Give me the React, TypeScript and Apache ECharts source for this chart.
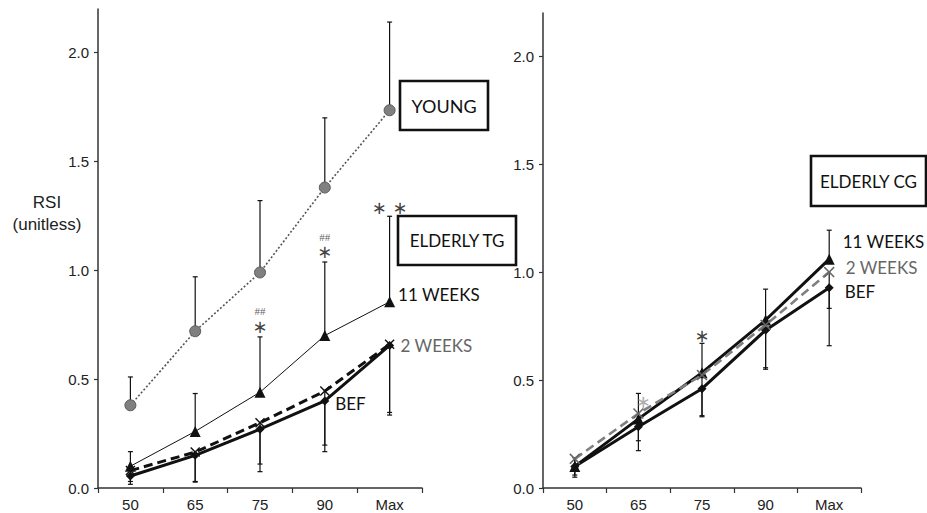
import { useEffect, useRef } from "react";
import * as echarts from "echarts";

const categories = ["50", "65", "75", "90", "Max"];
const yTicks = [0, 0.5, 1, 1.5, 2];

// Elderly training group (left) and young reference group
const youngMean = [0.38, 0.72, 0.99, 1.38, 1.735];
const youngUpper = [0.51, 0.97, 1.32, 1.7, 2.14];
const tg11Mean = [0.1, 0.26, 0.44, 0.7, 0.855];
const tg11Upper = [0.167, 0.434, 0.694, 1.038, 1.248];
const tg2Mean = [0.08, 0.165, 0.3, 0.445, 0.66];
const tg2Lower = [0.03, 0.03, 0.11, 0.197, 0.347];
const tgBefMean = [0.055, 0.15, 0.27, 0.4, 0.655];
const tgBefLower = [0.017, 0.027, 0.075, 0.167, 0.335];

// Elderly control group (right)
const cg11Mean = [0.1, 0.32, 0.534, 0.778, 1.06];
const cg11Upper = [0.14, 0.438, 0.67, 0.921, 1.194];
const cg2Mean = [0.135, 0.345, 0.523, 0.755, 1.0];
const cg2Lower = [0.06, 0.219, 0.335, 0.557, 0.832];
const cgBefMean = [0.1, 0.284, 0.46, 0.731, 0.927];
const cgBefLower = [0.05, 0.173, 0.33, 0.55, 0.659];

// Significance marks: [category index, y value, text]
const leftMarks: [number, number, string][] = [
  [2, 0.812, "##"],
  [2, 0.743, "∗"],
  [3, 1.155, "##"],
  [3, 1.084, "∗"],
  [4, 1.29, "∗ ∗"],
];
const rightMarks: [number, number, string][] = [[2, 0.708, "∗"]];
const rightGrayMarks: [number, number, string][] = [[1, 0.4, "∗"]];

const X_SYMBOL =
  "path://M0,1 L1,0 L5,4 L9,0 L10,1 L6,5 L10,9 L9,10 L5,6 L1,10 L0,9 L4,5 Z";
const LABEL_FONT = "Lato";
const STAR_SIZE = 18;

function labelled(
  values: number[],
  idx: number,
  text: string,
  offset: number[],
  color = "#111"
) {
  return values.map((v, i) =>
    i === idx
      ? {
          value: v,
          label: {
            show: true,
            formatter: text,
            position: "right",
            distance: 8,
            offset,
            color,
            fontFamily: LABEL_FONT,
            fontSize: 17,
          },
        }
      : v
  );
}

function errorBars(axis: number, from: number[], to: number[]) {
  return {
    type: "custom",
    xAxisIndex: axis,
    yAxisIndex: axis,
    silent: true,
    z: 1,
    data: from.map((v, i) => [i, v, to[i]]),
    encode: { x: 0, y: [1, 2] },
    renderItem: (_params: any, api: any) => {
      const a = api.coord([api.value(0), api.value(1)]);
      const b = api.coord([api.value(0), api.value(2)]);
      const w = 2.5;
      const style = { stroke: "#111", lineWidth: 1.2 };
      return {
        type: "group",
        children: [
          { type: "line", shape: { x1: a[0], y1: a[1], x2: b[0], y2: b[1] }, style },
          { type: "line", shape: { x1: b[0] - w, y1: b[1], x2: b[0] + w, y2: b[1] }, style },
        ],
      };
    },
  };
}

function marks(axis: number, list: [number, number, string][], color: string, dx = 0) {
  return {
    type: "scatter",
    xAxisIndex: axis,
    yAxisIndex: axis,
    silent: true,
    symbolSize: 0,
    z: 5,
    data: list.map(([i, v, t]) => {
      const hash = t === "##";
      return {
        value: [i, v],
        label: {
          show: true,
          position: "inside",
          formatter: t,
          color: hash ? "#333" : color,
          fontFamily: hash ? "Liberation Serif" : "DejaVu Sans",
          fontSize: hash ? 11 : STAR_SIZE,
          lineHeight: hash ? 11 : STAR_SIZE,
          offset: [dx, 0],
        },
      };
    }),
  };
}

function xAxis(gridIndex: number) {
  return {
    type: "category",
    gridIndex,
    data: categories,
    boundaryGap: true,
    axisLine: { lineStyle: { color: "#333", width: 1.5 } },
    axisTick: { show: true, length: 5, lineStyle: { color: "#333", width: 1.2 } },
    axisLabel: {
      color: "#222",
      fontFamily: "Liberation Sans",
      fontSize: 15,
      margin: 9,
    },
  };
}

function yAxis(gridIndex: number) {
  return {
    type: "value",
    gridIndex,
    min: 0,
    max: 2.2,
    interval: 0.5,
    splitLine: { show: false },
    axisLine: { show: true, lineStyle: { color: "#333", width: 1.5 } },
    axisTick: {
      show: true,
      length: 4,
      customValues: yTicks,
      lineStyle: { color: "#333", width: 1.2 },
    },
    axisLabel: {
      customValues: yTicks,
      color: "#222",
      fontFamily: "Liberation Sans",
      fontSize: 15,
      margin: 9,
      formatter: (v: number) => v.toFixed(1),
    },
  };
}

function box(x: number, y: number, w: number, h: number, text: string, size: number) {
  return {
    type: "group",
    x,
    y,
    children: [
      {
        type: "rect",
        shape: { x: 0, y: 0, width: w, height: h },
        style: { fill: "#fff", stroke: "#111", lineWidth: 2.6 },
      },
      {
        type: "text",
        x: w / 2,
        y: h / 2,
        style: {
          text,
          fill: "#111",
          font: `${size}px ${LABEL_FONT}`,
          textAlign: "center",
          textVerticalAlign: "middle",
        },
      },
    ],
  };
}

export default function App() {
  const ref = useRef<HTMLDivElement>(null);

  useEffect(() => {
    document.body.style.margin = "0";
    const chart = echarts.init(ref.current!, undefined, { renderer: "svg" });

    const option = {
      animation: false,
      backgroundColor: "#fff",
      grid: [
        { left: 98, top: 9, width: 324, height: 479 },
        { left: 543, top: 13, width: 318, height: 475 },
      ],
      xAxis: [xAxis(0), xAxis(1)],
      yAxis: [yAxis(0), yAxis(1)],
      graphic: [
        {
          type: "text",
          x: 47,
          y: 202,
          style: {
            text: "RSI",
            fill: "#222",
            font: "17px Liberation Sans",
            textAlign: "center",
            textVerticalAlign: "middle",
          },
        },
        {
          type: "text",
          x: 47,
          y: 224,
          style: {
            text: "(unitless)",
            fill: "#222",
            font: "17px Liberation Sans",
            textAlign: "center",
            textVerticalAlign: "middle",
          },
        },
        box(400, 81, 88, 49, "YOUNG", 18),
        box(398, 216, 118, 49, "ELDERLY TG", 17),
        box(811, 156, 115, 50, "ELDERLY CG", 17),
      ],
      series: [
        // error bars (left)
        errorBars(0, youngMean, youngUpper),
        errorBars(0, tg11Mean, tg11Upper),
        errorBars(0, tg2Mean, tg2Lower),
        errorBars(0, tgBefMean, tgBefLower),
        // error bars (right)
        errorBars(1, cg11Mean, cg11Upper),
        errorBars(1, cg2Mean, cg2Lower),
        errorBars(1, cgBefMean, cgBefLower),
        {
          name: "YOUNG",
          type: "line",
          xAxisIndex: 0,
          yAxisIndex: 0,
          data: youngMean,
          symbol: "circle",
          symbolSize: 11,
          z: 3,
          lineStyle: { color: "#555", width: 1.6, type: [2, 2] },
          itemStyle: { color: "#808080", borderColor: "#5a5a5a", borderWidth: 1 },
        },
        {
          name: "11 WEEKS",
          type: "line",
          xAxisIndex: 0,
          yAxisIndex: 0,
          data: labelled(tg11Mean, 4, "11 WEEKS", [-5, -7]),
          symbol: "triangle",
          symbolSize: 11,
          z: 3,
          lineStyle: { color: "#111", width: 1 },
          itemStyle: { color: "#111" },
        },
        {
          name: "2 WEEKS",
          type: "line",
          xAxisIndex: 0,
          yAxisIndex: 0,
          data: labelled(tg2Mean, 4, "2 WEEKS", [-2, 1], "#666"),
          symbol: X_SYMBOL,
          symbolSize: 10,
          z: 3,
          lineStyle: { color: "#111", width: 3, type: [9, 5] },
          itemStyle: { color: "#111" },
        },
        {
          name: "BEF",
          type: "line",
          xAxisIndex: 0,
          yAxisIndex: 0,
          data: labelled(tgBefMean, 3, "BEF", [-2, 3]),
          symbol: "diamond",
          symbolSize: 9,
          z: 4,
          lineStyle: { color: "#111", width: 3 },
          itemStyle: { color: "#111" },
        },
        {
          name: "11 WEEKS",
          type: "line",
          xAxisIndex: 1,
          yAxisIndex: 1,
          data: labelled(cg11Mean, 4, "11 WEEKS", [0, -18]),
          symbol: "triangle",
          symbolSize: 11,
          z: 3,
          lineStyle: { color: "#111", width: 3 },
          itemStyle: { color: "#111" },
        },
        {
          name: "2 WEEKS",
          type: "line",
          xAxisIndex: 1,
          yAxisIndex: 1,
          data: labelled(cg2Mean, 4, "2 WEEKS", [3, -5], "#666"),
          symbol: X_SYMBOL,
          symbolSize: 11,
          z: 4,
          lineStyle: { color: "#808080", width: 2.6, type: [9, 5] },
          itemStyle: { color: "#666" },
        },
        {
          name: "BEF",
          type: "line",
          xAxisIndex: 1,
          yAxisIndex: 1,
          data: labelled(cgBefMean, 4, "BEF", [3, 4]),
          symbol: "diamond",
          symbolSize: 9,
          z: 3,
          lineStyle: { color: "#111", width: 3 },
          itemStyle: { color: "#111" },
        },
        marks(0, leftMarks, "#111"),
        marks(1, rightMarks, "#111"),
        marks(1, rightGrayMarks, "#999", 5),
      ],
    };

    chart.setOption(option as any);
    return () => chart.dispose();
  }, []);

  return (
    <div
      ref={ref}
      style={{ position: "absolute", left: 0, top: 0, width: 927, height: 513 }}
    />
  );
}
